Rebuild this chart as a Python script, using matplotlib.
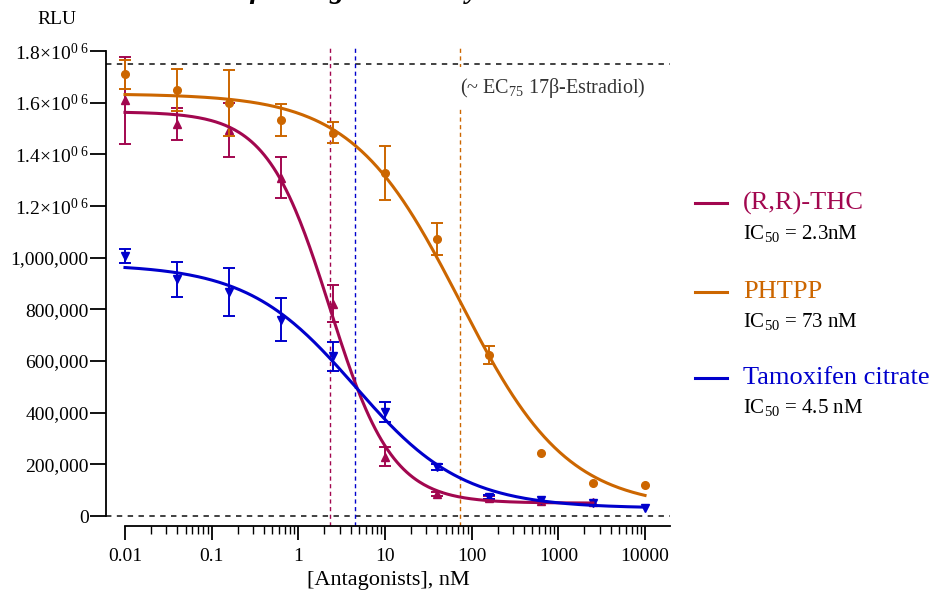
import numpy as np
import matplotlib
matplotlib.use("Agg")
import matplotlib.pyplot as plt
from matplotlib.lines import Line2D
from matplotlib.ticker import FixedLocator, NullFormatter

plt.rcParams["font.family"] = ["Liberation Serif", "DejaVu Serif"]
plt.rcParams["mathtext.fontset"] = "custom"
plt.rcParams["mathtext.rm"] = "Liberation Serif"
plt.rcParams["mathtext.it"] = "Liberation Serif:italic"
plt.rcParams["mathtext.bf"] = "Liberation Serif:bold"

# ---- data (RLU) ----
conc = [0.01, 0.04, 0.16, 0.625, 2.5, 10, 40, 160, 625, 2500, 10000]

thc_mean = [1.610e6, 1.518e6, 1.495e6, 1.310e6, 0.822e6, 0.230e6, 0.085e6, 0.070e6, 0.060e6, 0.055e6]
thc_sd = [0.168e6, 0.062e6, 0.105e6, 0.080e6, 0.072e6, 0.036e6, 0.008e6, 0.006e6, 0, 0]

pht_mean = [1.711e6, 1.649e6, 1.600e6, 1.533e6, 1.484e6, 1.328e6, 1.072e6, 0.623e6, 0.244e6, 0.129e6, 0.120e6]
pht_sd = [0.056e6, 0.081e6, 0.128e6, 0.062e6, 0.040e6, 0.104e6, 0.062e6, 0.034e6, 0, 0, 0]

tam_mean = [1.008e6, 0.916e6, 0.867e6, 0.760e6, 0.618e6, 0.403e6, 0.191e6, 0.073e6, 0.062e6, 0.052e6, 0.031e6]
tam_sd = [0.027e6, 0.068e6, 0.093e6, 0.083e6, 0.057e6, 0.038e6, 0.012e6, 0.008e6, 0, 0, 0]

# 4PL fit parameters: top, bottom, IC50 (nM), hill
thc_fit = [1.565e6, 0.050e6, 2.3, 1.2]
pht_fit = [1.635e6, 0.030e6, 73, 0.7]
tam_fit = [0.975e6, 0.030e6, 4.5, 0.7]

names = ["(R,R)-THC", "PHTPP", "Tamoxifen citrate"]
ic50_text = [r"IC$_{50}$ = 2.3nM", r"IC$_{50}$ = 73 nM", r"IC$_{50}$ = 4.5 nM"]

ytick_vals = [0, 200000, 400000, 600000, 800000, 1000000, 1200000, 1400000, 1600000, 1800000]
ytick_labels = ["0", "200,000", "400,000", "600,000", "800,000", "1,000,000",
                r"1.2×10$^{0\ 6}$", r"1.4×10$^{0\ 6}$", r"1.6×10$^{0\ 6}$", r"1.8×10$^{0\ 6}$"]
xtick_vals = [0.01, 0.1, 1, 10, 100, 1000, 10000]
xtick_labels = ["0.01", "0.1", "1", "10", "100", "1000", "10000"]

C_THC = "#A2074F"
C_PHT = "#CC6600"
C_TAM = "#0000CC"


def four_pl(x, top, bottom, ic50, hill):
    return bottom + (top - bottom) / (1 + (x / ic50) ** hill)


W, H = 932, 593
fig = plt.figure(figsize=(W / 100, H / 100), dpi=100)
ax = fig.add_axes([106 / W, 1 - 526 / H, (670 - 106) / W, (526 - 48) / H])

xmin, xmax = 10 ** -2.219, 10 ** 4.288
ax.set_xscale("log")
ax.set_xlim(xmin, xmax)
ax.set_ylim(-38700, 1.812e6)

# reference lines
ax.axhline(1.75e6, color="#333333", lw=1.3, ls=(0, (3, 3)), zorder=1)
ax.axhline(0, color="#333333", lw=1.3, ls=(0, (3, 3)), zorder=1)
for ic, c in [(thc_fit[2], C_THC), (tam_fit[2], C_TAM), (pht_fit[2], C_PHT)]:
    ax.axvline(ic, color=c, lw=1.0, ls=(0, (3, 2.5)), zorder=1)

series = [
    (conc[:len(thc_mean)], thc_mean, thc_sd, thc_fit, C_THC, "^"),
    (conc, pht_mean, pht_sd, pht_fit, C_PHT, "o"),
    (conc, tam_mean, tam_sd, tam_fit, C_TAM, "v"),
]
for x, m, s, fit, c, mk in series:
    x, m, s = np.array(x), np.array(m), np.array(s)
    ax.plot(x, m, mk, color=c, ms=5.5, zorder=3)
    has = s > 0
    ax.errorbar(x[has], m[has], yerr=s[has], fmt="none", ecolor=c, capsize=4,
                elinewidth=1.4, capthick=1.4, zorder=3)
    xs = np.logspace(np.log10(x[0]), np.log10(x[-1]), 300)
    ax.plot(xs, four_pl(xs, *fit), color=c, lw=2.2, zorder=4)

# axes styling (GraphPad-like)
for side in ["top", "right"]:
    ax.spines[side].set_visible(False)
ax.spines["left"].set_bounds(0, 1.8e6)
ax.spines["bottom"].set_bounds(0.01, xmax)
ax.spines["left"].set_linewidth(1.3)
ax.spines["bottom"].set_linewidth(1.3)

ax.yaxis.set_major_locator(FixedLocator(ytick_vals))
ax.set_yticklabels(ytick_labels)
ax.tick_params(axis="y", direction="out", length=11.5, width=1.3, pad=1, labelsize=14)

ax.xaxis.set_major_locator(FixedLocator(xtick_vals))
ax.set_xticklabels(xtick_labels)
minor = [d * k for d in xtick_vals[:-1] for k in range(2, 10)]
ax.xaxis.set_minor_locator(FixedLocator(minor))
ax.xaxis.set_minor_formatter(NullFormatter())
ax.tick_params(axis="x", which="major", direction="out", length=10, width=1.3, pad=6, labelsize=14)
ax.tick_params(axis="x", which="minor", direction="out", length=6, width=1.0)
ax.set_xlabel("[Antagonists], nM", fontsize=16, labelpad=4)

ax.text((460 - 106) / (670 - 106), (526 - 88) / (526 - 48),
        r"(~ EC$_{75}$ 17β-Estradiol)", transform=ax.transAxes, fontsize=14.5,
        color="#333333", ha="left", va="center", zorder=6,
        bbox=dict(boxstyle="square,pad=0.45", fc="white", ec="none"))

fig.text(57 / W, 1 - 20 / H, "RLU", fontsize=14, ha="center", va="center")

# title: only its descenders reach into the canvas, as in the reference
fig.text(212 / W, 1 + 1.5 / H, "ERβ Antagonist Assay", fontsize=21, fontweight="bold",
         fontstyle="italic", ha="left", va="baseline")

# legend
name_y = [203, 292, 378]
ic_y = [233, 322, 408]
for name, ict, ny, iy, c in zip(names, ic50_text, name_y, ic_y, [C_THC, C_PHT, C_TAM]):
    fig.add_artist(Line2D([695 / W, 727 / W], [1 - ny / H, 1 - ny / H], color=c, lw=2.2))
    fig.text(743 / W, 1 - ny / H, name, color=c, fontsize=19, ha="left", va="center")
    fig.text(743 / W, 1 - iy / H, ict, color="black", fontsize=15, ha="left", va="center")

fig.savefig("out.png", dpi=100, facecolor="white")
